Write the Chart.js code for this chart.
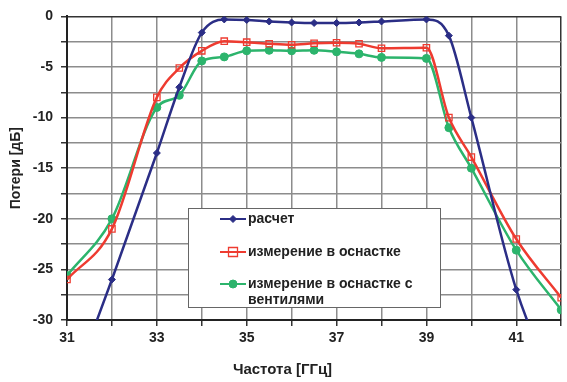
<!DOCTYPE html>
<html><head><meta charset="utf-8">
<script src="https://cdn.jsdelivr.net/npm/chart.js@4.4.1/dist/chart.umd.min.js"></script>
<style>html,body{margin:0;padding:0;background:#fff}#wrap{width:567px;height:382px;position:relative}</style>
</head><body><div id="wrap"><canvas id="c" width="567" height="382"></canvas></div>
<script>
// ---- data ----
const freqs   = [31, 32, 33, 33.5, 34, 34.5, 35, 35.5, 36, 36.5, 37, 37.5, 38, 39, 39.5, 40, 41, 42];
const calc    = [-38, -26, -13.5, -7.0, -1.6, -0.3, -0.35, -0.5, -0.6, -0.65, -0.65, -0.6, -0.5, -0.3, -1.9, -10, -27, -38];
const meas    = [-26, -21, -8.0, -5.1, -3.4, -2.45, -2.55, -2.7, -2.8, -2.65, -2.6, -2.7, -3.15, -3.1, -10.0, -13.9, -22, -27.8];
const measIso = [-25.6, -20, -9.0, -7.8, -4.4, -4.0, -3.4, -3.35, -3.4, -3.35, -3.5, -3.7, -4.05, -4.15, -11.0, -15.0, -23.1, -29.0];
const seriesNames = ['расчет', 'измерение в оснастке', 'измерение в оснастке с вентилями'];
const legendLines = [['расчет'], ['измерение в оснастке'], ['измерение в оснастке с', 'вентилями']];
const xTickLabels = [31, 33, 35, 37, 39, 41];
const yTickLabels = [0, -5, -10, -15, -20, -25, -30];
const xTitle = 'Частота [ГГц]';
const yTitle = 'Потери [дБ]';

const BLUE = '#2b2e86', RED = '#ee3b30', GREEN = '#2cb46c';
const toPts = arr => freqs.map((f, i) => ({x: f, y: arr[i]}));

function drawMarker(ctx, style, r, x, y, fill, stroke, bw) {
  ctx.save();
  ctx.lineWidth = bw; ctx.strokeStyle = stroke; ctx.fillStyle = fill;
  ctx.beginPath();
  if (style === 'rectRot') { ctx.moveTo(x, y - r); ctx.lineTo(x + r, y); ctx.lineTo(x, y + r); ctx.lineTo(x - r, y); ctx.closePath(); }
  else if (style === 'rect') { ctx.rect(x - r, y - r, 2 * r, 2 * r); }
  else { ctx.arc(x, y, r, 0, Math.PI * 2); }
  if (fill && fill !== 'transparent') ctx.fill();
  ctx.stroke();
  ctx.restore();
}

const boxLegend = {
  id: 'boxLegend',
  afterDraw(chart) {
    const ctx = chart.ctx;
    const L = 188, T = 208, W = 252, H = 99;
    ctx.save();
    ctx.fillStyle = '#fff'; ctx.fillRect(L, T, W, H);
    ctx.strokeStyle = '#666'; ctx.lineWidth = 1; ctx.strokeRect(L + 0.5, T + 0.5, W, H);
    const rowsY = [219, 252, 284];
    ctx.font = 'bold 14px "Liberation Sans", Arial, sans-serif';
    ctx.textBaseline = 'middle'; ctx.fillStyle = '#222';
    chart.data.datasets.forEach((ds, i) => {
      const y = rowsY[i];
      ctx.strokeStyle = ds.borderColor; ctx.lineWidth = 2;
      ctx.beginPath(); ctx.moveTo(220, y); ctx.lineTo(246, y); ctx.stroke();
      drawMarker(ctx, ds.pointStyle, ds.pointRadius, 233, y, ds.pointBackgroundColor, ds.pointBorderColor, ds.pointBorderWidth);
      ctx.fillStyle = '#222';
      legendLines[i].forEach((t, k) => ctx.fillText(t, 248, y + k * 16));
    });
    ctx.restore();
  }
};

const gridColor = v => (ctx) => (ctx.tick && ctx.tick.value === v) ? '#333' : '#8c8c8c';
const tickFont = {family: '"Liberation Sans", Arial, sans-serif', size: 14, weight: 'bold'};

new Chart(document.getElementById('c'), {
  type: 'line',
  data: {
    datasets: [
      {label: seriesNames[0], data: toPts(calc), borderColor: BLUE, borderWidth: 2.5, pointStyle: 'rectRot', pointRadius: 3.5,
       pointBackgroundColor: BLUE, pointBorderColor: BLUE, pointBorderWidth: 1, cubicInterpolationMode: 'monotone'},
      {label: seriesNames[1], data: toPts(meas), borderColor: RED, borderWidth: 2.5, pointStyle: 'rect', pointRadius: 4.5,
       pointBackgroundColor: 'transparent', pointBorderColor: RED, pointBorderWidth: 1.3, cubicInterpolationMode: 'monotone'},
      {label: seriesNames[2], data: toPts(measIso), borderColor: GREEN, borderWidth: 2.5, pointStyle: 'circle', pointRadius: 4,
       pointBackgroundColor: GREEN, pointBorderColor: GREEN, pointBorderWidth: 1, cubicInterpolationMode: 'monotone'}
    ]
  },
  options: {
    responsive: false, animation: false, devicePixelRatio: 1,
    layout: {padding: {left: 0, right: 2, top: 14, bottom: 0}},
    plugins: {
      legend: {display: false}, tooltip: {enabled: false},
      title: {display: true, position: 'bottom', text: xTitle, color: '#222',
              font: {family: '"Liberation Sans", Arial, sans-serif', size: 15, weight: 'bold'}, padding: {top: 4, bottom: 3}}
    },
    scales: {
      x: {
        type: 'linear', min: 31, max: 42,
        afterFit: s => { s.height = 37; },
        ticks: {stepSize: 1, autoSkip: false, maxRotation: 0, color: '#222', font: tickFont, padding: 4,
                callback: v => xTickLabels.includes(v) ? String(v) : ''},
        grid: {color: gridColor(42), lineWidth: 1.5, tickLength: 6, tickColor: '#333'},
        border: {display: true, color: '#222', width: 2}
      },
      y: {
        type: 'linear', min: -30, max: 0,
        afterFit: s => { s.width = 67; },
        ticks: {stepSize: 2.5, autoSkip: false, color: '#222', font: tickFont, padding: 8,
                callback: v => yTickLabels.includes(v) ? String(v) : ''},
        grid: {color: gridColor(0), lineWidth: 1.5, tickLength: 6, tickColor: '#333'},
        border: {display: true, color: '#222', width: 2},
        title: {display: true, text: yTitle, color: '#222',
                font: {family: '"Liberation Sans", Arial, sans-serif', size: 14, weight: 'bold'}, padding: {top: 8, bottom: 0}}
      }
    }
  },
  plugins: [boxLegend]
});
</script>
</body></html>
